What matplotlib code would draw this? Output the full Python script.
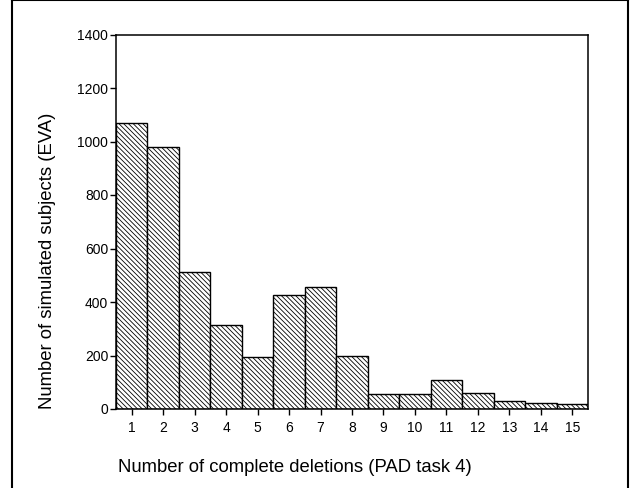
import matplotlib
matplotlib.use('Agg')
import matplotlib.pyplot as plt

plt.rcParams['font.family'] = ['Liberation Sans', 'DejaVu Sans']
plt.rcParams['hatch.color'] = '#7a7a7a'
plt.rcParams['hatch.linewidth'] = 0.6

deletions = list(range(1, 16))
subjects = [1070, 980, 514, 315, 195, 426, 455, 199, 55, 55, 107, 60, 30, 22, 17]

fig = plt.figure(figsize=(6.32, 4.88), dpi=100)
ax = fig.add_axes([116 / 632, 1 - 409 / 488, 472 / 632, 374.5 / 488])

ax.bar(deletions, subjects, width=1.0, color='white', edgecolor='black',
       linewidth=1.0, hatch='\\' * 7)

ax.set_xlim(0.5, 15.5)
ax.set_ylim(0, 1400)
ax.set_xticks(deletions)
ax.set_yticks(range(0, 1401, 200))
ax.tick_params(direction='out', length=4, width=1, labelsize=10)
ax.tick_params(axis='x', pad=5)
ax.tick_params(axis='y', pad=1.5)
for s in ax.spines.values():
    s.set_linewidth(1.1)

fig.text(295 / 632, 1 - 468 / 488, 'Number of complete deletions (PAD task 4)',
         ha='center', va='center', fontsize=13.3)
fig.text(48 / 632, 1 - 261 / 488, 'Number of simulated subjects (EVA)',
         ha='center', va='center', rotation=90, fontsize=13.3)

# outer frame lines (table border)
fig.add_artist(plt.Line2D([12 / 632, 12 / 632], [0, 1], color='black', lw=1.5))
fig.add_artist(plt.Line2D([628 / 632, 628 / 632], [0, 1], color='black', lw=1.5))
fig.add_artist(plt.Line2D([12 / 632, 628 / 632], [0.999, 0.999], color='black', lw=1.5))

fig.savefig('out.png', dpi=100)
